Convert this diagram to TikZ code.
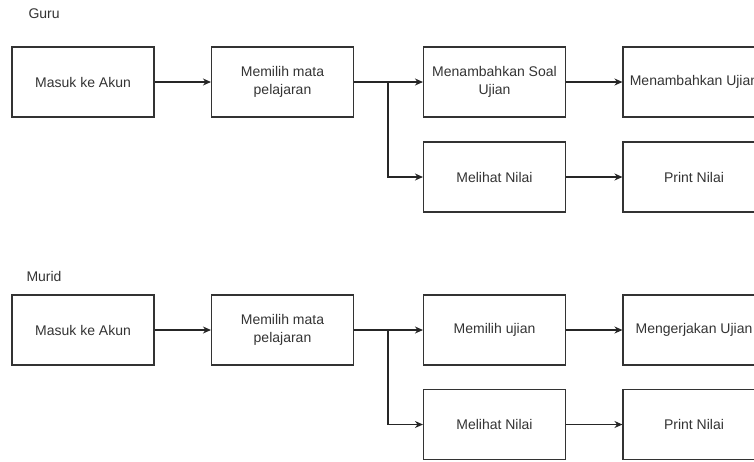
\documentclass[tikz,border=0pt]{standalone}
\usepackage{fontspec}
\setmainfont{Liberation Sans}
\usetikzlibrary{calc, positioning}
\usetikzlibrary{arrows.meta}

\tikzset{
  langkah/.style={draw=black!80, line width=1.1pt, minimum width=142pt,
    minimum height=70pt, inner sep=0pt, align=center,
    font=\fontsize{14}{18}\selectfont, text=black!80},
  panah/.style={-{Stealth[length=8pt, width=7pt]}, line width=1.1pt, draw=black!85},
  judul/.style={anchor=west, font=\fontsize{14}{17}\selectfont, text=black!80}
}

\begin{document}
\begin{tikzpicture}[x=1pt, y=-1pt]
\useasboundingbox (0,0) rectangle (754,461);
\def\colA{83}
\def\colB{282.5}
\def\colC{494.5}
\def\colD{694}
\def\forkX{388}

% Guru
\node[judul] (guruLabel) at (25,14) {Guru};
\node[langkah] (guruAkun) at (\colA,82) {Masuk ke Akun};
\node[langkah] (guruMapel) at (\colB,82) {Memilih mata\\pelajaran};
\node[langkah] (guruSoal) at (\colC,82) {Menambahkan Soal\\Ujian};
\node[langkah] (guruUjian) at (\colD,82) {Menambahkan Ujian};
\node[langkah] (guruNilai) at (\colC,177) {Melihat Nilai};
\node[langkah] (guruPrint) at (\colD,177) {Print Nilai};
\coordinate (guruFork) at (\forkX,82);

\draw[panah] (guruAkun) -- (guruMapel);
\draw[panah] (guruMapel) -- (guruSoal);
\draw[panah] (guruFork) |- (guruNilai.west);
\draw[panah] (guruSoal) -- (guruUjian);
\draw[panah] (guruNilai) -- (guruPrint);

% Murid
\node[judul] (muridLabel) at (23,276) {Murid};
\node[langkah] (muridAkun) at (\colA,330) {Masuk ke Akun};
\node[langkah] (muridMapel) at (\colB,330) {Memilih mata\\pelajaran};
\node[langkah] (muridPilih) at (\colC,330) {Memilih ujian};
\node[langkah] (muridKerja) at (\colD,330) {Mengerjakan Ujian};
\node[langkah] (muridNilai) at (\colC,424.5) {Melihat Nilai};
\node[langkah] (muridPrint) at (\colD,424.5) {Print Nilai};
\coordinate (muridFork) at (\forkX,330);

\draw[panah] (muridAkun) -- (muridMapel);
\draw[panah] (muridMapel) -- (muridPilih);
\draw[panah] (muridFork) |- (muridNilai.west);
\draw[panah] (muridPilih) -- (muridKerja);
\draw[panah] (muridNilai) -- (muridPrint);
\end{tikzpicture}
\end{document}
